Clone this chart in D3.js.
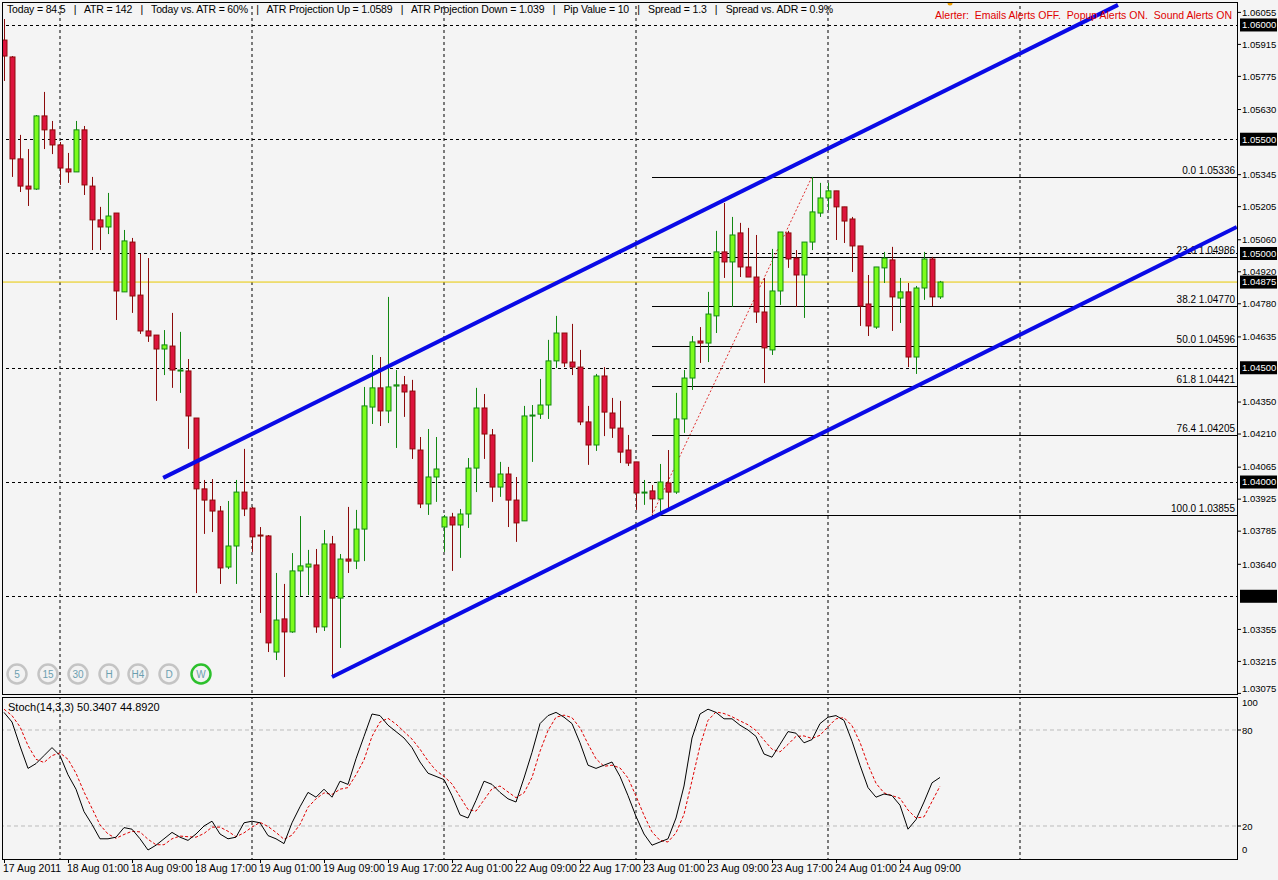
<!DOCTYPE html>
<html lang="en">
<head>
<meta charset="UTF-8">
<title>EURUSD H1 with channel</title>
<script src="https://d3js.org/d3.v7.min.js"></script>
<style>
    body { margin: 0; background: #f4f4f4; }
    svg { display: block; font-family: "Liberation Sans", Arial, sans-serif; }
</style>
</head>
<body>
<div id="container"></div>
<script>
// Candles (hourly)
const opens = [1.05934,1.05860,1.05414,1.05295,1.05282,1.05602,1.05541,1.05475,1.05370,1.05357,
1.05541,1.05295,1.05147,1.05116,1.05177,1.04832,1.05050,1.04818,1.04661,1.04643,
1.04582,1.04595,1.04486,1.04486,1.04280,1.03970,1.03921,1.03873,1.03628,1.03720,
1.03956,1.03886,1.03768,1.03764,1.03256,1.03401,1.03344,1.03611,1.03628,1.03637,
1.03366,1.03729,1.03492,1.03663,1.03654,1.03794,1.04328,1.04412,1.04311,1.04420,
1.04425,1.04398,1.04140,1.03904,1.04022,1.03803,1.03847,1.03812,1.03860,1.04061,
1.04324,1.04206,1.03978,1.04035,1.03921,1.03830,1.04289,1.04297,1.04337,1.04530,
1.04652,1.04525,1.04503,1.04263,1.04162,1.04464,1.04302,1.04236,1.04140,1.04088,
1.03952,1.03961,1.03926,1.03996,1.03956,1.04276,1.04455,1.04617,1.04608,1.04727,
1.05007,1.04963,1.05090,1.04941,1.04897,1.04744,1.04578,1.04836,1.05090,1.04980,
1.04906,1.05050,1.05177,1.05243,1.05274,1.05204,1.05151,1.05033,1.04779,1.04678,
1.04937,1.04972,1.04805,1.04832,1.04547,1.04849,1.04976,1.04810];
const highs = [1.06026,1.05864,1.05519,1.05457,1.05606,1.05707,1.05580,1.05488,1.05440,1.05580,
1.05558,1.05335,1.05204,1.05265,1.05177,1.05103,1.05068,1.04998,1.04980,1.04643,
1.04665,1.04740,1.04657,1.04538,1.04280,1.04009,1.04013,1.03895,1.03917,1.04009,
1.04145,1.03891,1.03803,1.03768,1.03602,1.03554,1.03689,1.03851,1.03703,1.03707,
1.03790,1.03764,1.03685,1.03891,1.03878,1.04416,1.04556,1.04547,1.04810,1.04490,
1.04464,1.04447,1.04197,1.04232,1.04197,1.03856,1.03865,1.03882,1.04105,1.04412,
1.04385,1.04232,1.04088,1.04066,1.04022,1.04333,1.04337,1.04451,1.04622,1.04727,
1.04652,1.04692,1.04578,1.04333,1.04473,1.04503,1.04368,1.04355,1.04206,1.04088,
1.04009,1.03987,1.04079,1.04140,1.04390,1.04490,1.04639,1.04678,1.04832,1.05099,
1.05221,1.05160,1.05134,1.05112,1.05081,1.04893,1.05020,1.05094,1.05099,1.05015,
1.05050,1.05335,1.05309,1.05309,1.05274,1.05204,1.05160,1.05033,1.04906,1.04941,
1.05007,1.05029,1.04893,1.04871,1.04858,1.05007,1.04985,1.04880];
const lows = [1.05755,1.05335,1.05269,1.05208,1.05278,1.05457,1.05435,1.05300,1.05309,1.05357,
1.05256,1.05015,1.05015,1.05085,1.04709,1.04832,1.04740,1.04648,1.04613,1.04355,
1.04468,1.04412,1.04390,1.04145,1.03514,1.03773,1.03781,1.03554,1.03619,1.03554,
1.03851,1.03694,1.03427,1.03256,1.03221,1.03147,1.03340,1.03501,1.03505,1.03340,
1.03348,1.03147,1.03274,1.03602,1.03619,1.03654,1.04254,1.04245,1.04258,1.04149,
1.04285,1.04101,1.03886,1.03856,1.03913,1.03694,1.03611,1.03668,1.03799,1.03956,
1.04101,1.03913,1.03935,1.03803,1.03738,1.03830,1.04088,1.04276,1.04276,1.04499,
1.04503,1.04468,1.04249,1.04075,1.04136,1.04201,1.04193,1.04083,1.04070,1.03878,
1.03900,1.03864,1.03864,1.03886,1.03948,1.04215,1.04403,1.04521,1.04525,1.04652,
1.04893,1.04766,1.04897,1.04897,1.04696,1.04433,1.04556,1.04775,1.04937,1.04766,
1.04718,1.05015,1.05160,1.05190,1.05059,1.05046,1.04919,1.04683,1.04639,1.04670,
1.04871,1.04661,1.04696,1.04503,1.04473,1.04797,1.04770,1.04801];
const closes = [1.05864,1.05414,1.05295,1.05282,1.05602,1.05541,1.05475,1.05374,1.05357,1.05541,
1.05300,1.05147,1.05116,1.05164,1.04836,1.05055,1.04814,1.04661,1.04639,1.04582,
1.04600,1.04490,1.04490,1.04289,1.03970,1.03921,1.03873,1.03624,1.03720,1.03956,
1.03882,1.03760,1.03764,1.03296,1.03396,1.03344,1.03611,1.03633,1.03641,1.03366,
1.03729,1.03492,1.03663,1.03654,1.03794,1.04333,1.04412,1.04311,1.04416,1.04425,
1.04394,1.04145,1.03904,1.04022,1.04057,1.03847,1.03812,1.03860,1.04061,1.04324,
1.04210,1.03978,1.04035,1.03921,1.03821,1.04289,1.04293,1.04337,1.04530,1.04652,
1.04521,1.04503,1.04263,1.04162,1.04464,1.04306,1.04236,1.04131,1.04083,1.03952,
1.03956,1.03926,1.04000,1.03956,1.04276,1.04455,1.04613,1.04608,1.04735,1.05007,
1.04963,1.05081,1.04941,1.04897,1.04744,1.04587,1.04836,1.05094,1.04976,1.04906,
1.05050,1.05182,1.05243,1.05274,1.05204,1.05142,1.05033,1.04770,1.04683,1.04941,
1.04980,1.04810,1.04832,1.04547,1.04849,1.04976,1.04810,1.04875];

// Stochastic (14,3,3): main %K and signal %D
const stochK = [91,85,70,56,59,64,69,64,52,43,29,21,12,12,13,19,18,12,5,8,
12,16,13,11,15,20,23,15,12,13,22,23,22,14,12,9,22,32,41,38,
43,38,48,46,62,76,90,89,83,79,75,69,60,53,51,49,39,27,25,36,
48,46,41,37,35,50,66,84,89,91,88,84,72,58,56,58,60,51,39,26,
15,8,10,12,25,45,75,90,93,91,87,87,83,80,76,65,63,71,79,78,
72,74,84,88,89,86,73,58,44,38,40,39,33,18,24,35,47,50.3407];
const stochD = [93,89,82,70.3,61.7,59.7,64,65.7,61.7,53,41.3,31,20.7,15,12.3,14.7,16.7,16.3,11.7,8.3,
8.3,12,13.7,13.3,13,15.3,19.3,19.3,16.7,13.3,15.7,19.3,22.3,19.7,16,11.7,14.3,21,31.7,37,
40.7,39.7,43,44,52,61.3,76,85,87.3,83.7,79,74.3,68,60.7,54.7,51,46.3,38.3,30.3,29.3,
36.3,43.3,45,41.3,37.7,40.7,50.3,66.7,79.7,88,89.3,87.7,81.3,71.3,62,57.3,58,56.3,50,38.7,
26.7,16.3,11,10,15.7,27.3,48.3,70,86,91.3,90.3,88.3,85.7,83.3,79.7,73.7,68,66.3,71,76,
76.3,74.7,76.7,82,87,87.7,82.7,72.3,58.3,46.7,40.7,39,37.3,30,25,25.7,35.3,44.8920];

const timeLabels = ["17 Aug 2011","18 Aug 01:00","18 Aug 09:00","18 Aug 17:00","19 Aug 01:00",
"19 Aug 09:00","19 Aug 17:00","22 Aug 01:00","22 Aug 09:00","22 Aug 17:00","23 Aug 01:00",
"23 Aug 09:00","23 Aug 17:00","24 Aug 01:00","24 Aug 09:00"];
const priceTicks = [1.06055,1.05915,1.05775,1.05630,1.05345,1.05205,1.05060,1.04920,1.04780,
1.04635,1.04350,1.04210,1.04065,1.03925,1.03785,1.03640,1.03355,1.03215,1.03075];
const roundLevels = [1.06, 1.055, 1.05, 1.045, 1.04, 1.035];
const lastPrice = 1.04875;

// Fibonacci retracement from bar 81 (low) to bar 101 (high)
const fibLevels = [0, 23.6, 38.2, 50.0, 61.8, 76.4, 100.0];
const fibPrices = [1.05336, 1.04986, 1.04770, 1.04596, 1.04421, 1.04205, 1.03855];
const fibFrom = 81, fibTo = 101;

// Channel lines: [bar index, price] endpoints
const channelUpper = [[19.9, 1.04018], [139.25, 1.06088]];
const channelLower = [[41, 1.03147], [154.1, 1.05116]];

const infoItems = ["Today = 84.5","ATR = 142","Today vs. ATR = 60%","ATR Projection Up = 1.0589",
"ATR Projection Down = 1.039","Pip Value = 10","Spread = 1.3","Spread vs. ADR = 0.9%"];
const timeframes = ["5","15","30","H","H4","D","W"];

const width = 1278, height = 880;
const plotRight = 1237;
const mainTop = 2, mainBottom = 694, stochTop = 697, stochBottom = 859;

const svg = d3.select("#container").append("svg")
    .attr("width", width).attr("height", height);

svg.append("rect").attr("width", width).attr("height", height).attr("fill", "#f4f4f4");

const x = d3.scaleLinear().domain([0, 117]).range([4, 940]);
const y = d3.scaleLinear().domain([1.03075, 1.06055]).range([693.4, 12.4]);
const ys = d3.scaleLinear().domain([0, 100]).range([858, 698]);

const defs = svg.append("defs");
defs.append("clipPath").attr("id", "mainClip").append("rect")
    .attr("x", 3).attr("y", mainTop + 1).attr("width", plotRight - 3).attr("height", mainBottom - mainTop - 1);
defs.append("clipPath").attr("id", "stochClip").append("rect")
    .attr("x", 3).attr("y", stochTop + 1).attr("width", plotRight - 3).attr("height", stochBottom - stochTop - 1);

const main = svg.append("g").attr("clip-path", "url(#mainClip)");
const stoch = svg.append("g").attr("clip-path", "url(#stochClip)");

// vertical grid (every 24 bars, starting at bar 7)
const vgrid = d3.range(7, 140, 24);
[main, stoch].forEach(g => {
    g.selectAll(".vg").data(vgrid).join("line")
        .attr("x1", d => x(d)).attr("x2", d => x(d))
        .attr("y1", 0).attr("y2", height)
        .attr("stroke", "#000").attr("stroke-dasharray", "3,3").attr("stroke-width", 1);
});
main.selectAll(".hg").data(roundLevels).join("line")
    .attr("x1", 0).attr("x2", plotRight)
    .attr("y1", d => Math.round(y(d)) + 0.5).attr("y2", d => Math.round(y(d)) + 0.5)
    .attr("stroke", "#000").attr("stroke-dasharray", "3,3");

// current price line
main.append("line").attr("x1", 0).attr("x2", plotRight)
    .attr("y1", y(lastPrice)).attr("y2", y(lastPrice))
    .attr("stroke", "#e8c800").attr("stroke-width", 1);

// fibo
main.append("line")
    .attr("x1", x(fibFrom)).attr("y1", y(fibPrices[6]))
    .attr("x2", x(fibTo)).attr("y2", y(fibPrices[0]))
    .attr("stroke", "#e03030").attr("stroke-dasharray", "2,2");
main.selectAll(".fib").data(fibPrices).join("line")
    .attr("x1", x(fibFrom)).attr("x2", plotRight)
    .attr("y1", d => Math.round(y(d)) + 0.5).attr("y2", d => Math.round(y(d)) + 0.5)
    .attr("stroke", "#000");
main.selectAll(".fibt").data(fibPrices).join("text")
    .attr("x", plotRight - 2).attr("y", d => y(d) - 3)
    .attr("text-anchor", "end").attr("font-size", 10).attr("fill", "#000")
    .text((d, i) => `${fibLevels[i].toFixed(1)} ${d.toFixed(5)}`);

// candles
const idx = d3.range(opens.length);
const bull = i => closes[i] >= opens[i];
main.selectAll(".wick").data(idx).join("line")
    .attr("x1", i => x(i) + 0.5).attr("x2", i => x(i) + 0.5)
    .attr("y1", i => y(highs[i])).attr("y2", i => y(lows[i]))
    .attr("stroke", i => bull(i) ? "#118811" : "#8b0a0a").attr("stroke-width", 1);
main.selectAll(".body").data(idx).join("rect")
    .attr("x", i => x(i) - 2).attr("width", 5)
    .attr("y", i => y(Math.max(opens[i], closes[i])))
    .attr("height", i => Math.max(1, Math.abs(y(opens[i]) - y(closes[i]))))
    .attr("fill", i => bull(i) ? "#7cfc1c" : "#dc143c")
    .attr("stroke", i => bull(i) ? "#118811" : "#8b0a0a").attr("stroke-width", 1);

// channel
[channelUpper, channelLower].forEach(c => {
    main.append("line")
        .attr("x1", x(c[0][0])).attr("y1", y(c[0][1]))
        .attr("x2", x(c[1][0])).attr("y2", y(c[1][1]))
        .attr("stroke", "#0a0ae6").attr("stroke-width", 4);
});

// info line
main.append("text").attr("x", 7).attr("y", 13)
    .attr("font-size", 10.5).attr("fill", "#000")
    .attr("xml:space", "preserve")
    .attr("textLength", 826).attr("lengthAdjust", "spacing")
    .text(infoItems.join("   |   "));
main.append("text").attr("x", 1232).attr("y", 19).attr("text-anchor", "end")
    .attr("font-size", 10.5).attr("fill", "#e00000")
    .attr("xml:space", "preserve")
    .text("Alerter:  Emails Alerts OFF.  Popup Alerts ON.  Sound Alerts ON");
main.append("circle").attr("cx", 950).attr("cy", 3).attr("r", 2.5).attr("fill", "#f0a000");

// timeframe buttons
const tfX = [17, 48, 78, 109, 138, 169, 201];
const tf = main.selectAll(".tf").data(timeframes).join("g")
    .attr("transform", (d, i) => `translate(${tfX[i]},674)`);
tf.append("circle").attr("r", 9.5).attr("fill", "#f2f2f2")
    .attr("stroke", d => d === "W" ? "#2cc02c" : "#c4c4c4").attr("stroke-width", 2.5);
tf.append("text").attr("text-anchor", "middle").attr("dy", "0.35em")
    .attr("font-size", 10).attr("fill", "#6d9fb0").text(d => d);

// stochastic
stoch.selectAll(".lvl").data([80, 20]).join("line")
    .attr("x1", 0).attr("x2", plotRight)
    .attr("y1", d => ys(d)).attr("y2", d => ys(d))
    .attr("stroke", "#bbb").attr("stroke-dasharray", "4,3");
const lineK = d3.line().x((d, i) => x(i)).y(d => ys(d));
stoch.append("path").attr("d", lineK(stochD)).attr("fill", "none")
    .attr("stroke", "#e00000").attr("stroke-dasharray", "3,2");
stoch.append("path").attr("d", lineK(stochK)).attr("fill", "none").attr("stroke", "#000");
stoch.append("text").attr("x", 8).attr("y", 711).attr("font-size", 11)
    .text(`Stoch(14,3,3) ${stochK[117].toFixed(4)} ${stochD[117].toFixed(4)}`);

// frames
const frame = svg.append("g").attr("fill", "none").attr("stroke", "#000");
frame.append("rect").attr("x", 2.5).attr("y", mainTop + 0.5).attr("width", plotRight - 2).attr("height", mainBottom - mainTop);
frame.append("rect").attr("x", 2.5).attr("y", stochTop + 0.5).attr("width", plotRight - 2).attr("height", stochBottom - stochTop);

// price axis
const ax = svg.append("g").attr("font-size", 9.5);
ax.selectAll(".pt").data(priceTicks).join("line")
    .attr("x1", plotRight).attr("x2", plotRight + 4)
    .attr("y1", d => y(d)).attr("y2", d => y(d)).attr("stroke", "#000");
ax.selectAll(".pl").data(priceTicks).join("text")
    .attr("x", plotRight + 5).attr("y", d => Math.min(y(d), 689)).attr("dy", "0.35em")
    .text(d => d.toFixed(5));
const boxes = roundLevels.concat([lastPrice]);
ax.selectAll(".pb").data(boxes).join("rect")
    .attr("x", plotRight + 3).attr("width", 37).attr("y", d => y(d) - 6.5).attr("height", 13)
    .attr("fill", "#000");
ax.selectAll(".pbt").data(boxes.filter(d => d !== 1.035)).join("text")
    .attr("x", plotRight + 5).attr("y", d => y(d)).attr("dy", "0.35em")
    .attr("fill", "#fff").text(d => d.toFixed(5));

// stoch axis
ax.selectAll(".sl").data([100, 80, 20, 0]).join("text")
    .attr("x", plotRight + 5).attr("y", d => d === 0 ? ys(d) - 5 : d === 100 ? ys(d) + 8 : ys(d) + 4)
    .text(d => d);
ax.selectAll(".st").data([80, 20]).join("line")
    .attr("x1", plotRight).attr("x2", plotRight + 4)
    .attr("y1", d => ys(d)).attr("y2", d => ys(d)).attr("stroke", "#000");

// time axis
const tg = svg.append("g").attr("font-size", 10.5);
tg.selectAll(".tt").data(timeLabels).join("line")
    .attr("x1", (d, i) => x(i * 8) + 0.5).attr("x2", (d, i) => x(i * 8) + 0.5)
    .attr("y1", stochBottom).attr("y2", stochBottom + 4).attr("stroke", "#000");
tg.selectAll(".tl").data(timeLabels).join("text")
    .attr("x", (d, i) => x(i * 8) - 1).attr("y", 872)
    .text(d => d);
</script>
</body>
</html>
